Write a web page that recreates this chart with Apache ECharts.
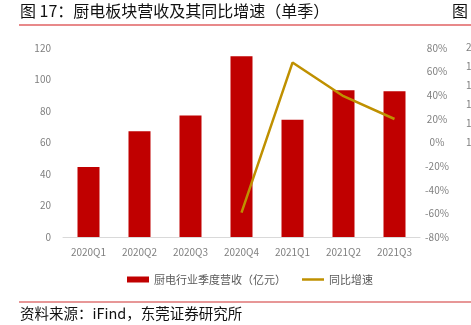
<!DOCTYPE html>
<html>
<head>
<meta charset="utf-8">
<script src="https://cdn.jsdelivr.net/npm/echarts@6/dist/echarts.min.js"></script>
<style>
html,body{margin:0;padding:0;background:#fff;}
#c{width:471px;height:325px;}
</style>
</head>
<body>
<div id="c"></div>
<script>
var categories = ['2020Q1','2020Q2','2020Q3','2020Q4','2021Q1','2021Q2','2021Q3'];
var revenue = [44.4, 67.1, 77.1, 114.7, 74.5, 93.1, 92.5];
var growth = [null, null, null, -59.4, 67.7, 39.2, 19.9];
var leftTicks = {min: 0, max: 120, interval: 20};
var rightTicks = {min: -80, max: 80, interval: 20};
var clippedTicks = ['200','180','160','140','120','100'];

var FONT = '"Noto Sans CJK SC", "Noto Sans", sans-serif';
var chart = echarts.init(document.getElementById('c'), null, {renderer: 'canvas'});

var graphics = [
  {type: 'text', left: 20, top: 3, style: {text: '图 17：厨电板块营收及其同比增速（单季）', font: '16px ' + FONT, fill: '#111'}},
  {type: 'text', left: 452, top: 3, style: {text: '图', font: '16px ' + FONT, fill: '#111'}},
  {type: 'rect', shape: {x: 19, y: 24, width: 452, height: 2}, style: {fill: '#E8898A'}},
  {type: 'rect', shape: {x: 19, y: 301.5, width: 452, height: 1}, style: {fill: '#D03030'}},
  {type: 'text', left: 20, top: 306, style: {text: '资料来源：iFind，东莞证券研究所', font: '14.5px ' + FONT, fill: '#111'}}
];
clippedTicks.forEach(function (t, i) {
  graphics.push({type: 'text', x: 466, y: 47.5 + i * 18.9, style: {text: t, font: '10px ' + FONT, fill: '#7F7F7F', verticalAlign: 'middle'}});
});

chart.setOption({
  animation: false,
  textStyle: {fontFamily: FONT},
  graphic: graphics,
  grid: {left: 63, right: 51, top: 48, bottom: 88},
  legend: [
    {left: 122, top: 269, itemWidth: 22, itemHeight: 6, data: [{name: '厨电行业季度营收（亿元）', icon: 'rect'}],
     textStyle: {fontSize: 11, color: '#595959', fontFamily: FONT}},
    {left: 297, top: 269, itemWidth: 22, itemHeight: 2.5, data: [{name: '同比增速', icon: 'rect'}],
     textStyle: {fontSize: 11, color: '#595959', fontFamily: FONT}}
  ],
  xAxis: {
    type: 'category', data: categories,
    axisLine: {lineStyle: {color: '#D9D9D9', width: 1}},
    axisTick: {show: false},
    axisLabel: {color: '#7F7F7F', fontSize: 10, margin: 10, fontFamily: FONT}
  },
  yAxis: [
    {type: 'value', min: leftTicks.min, max: leftTicks.max, interval: leftTicks.interval,
     splitLine: {show: false}, axisLine: {show: false}, axisTick: {show: false},
     axisLabel: {color: '#7F7F7F', fontSize: 10, margin: 12, fontFamily: FONT}},
    {type: 'value', min: rightTicks.min, max: rightTicks.max, interval: rightTicks.interval, position: 'right',
     splitLine: {show: false}, axisLine: {show: false}, axisTick: {show: false},
     axisLabel: {color: '#7F7F7F', fontSize: 10, margin: 17, align: 'center', formatter: '{value}%', fontFamily: FONT}}
  ],
  series: [
    {name: '厨电行业季度营收（亿元）', type: 'bar', data: revenue, barWidth: 22, yAxisIndex: 0,
     itemStyle: {color: '#C00000'}},
    {name: '同比增速', type: 'line', data: growth, yAxisIndex: 1, showSymbol: false, symbol: 'none',
     lineStyle: {color: '#BF9000', width: 2.5}, itemStyle: {color: '#BF9000'}}
  ]
});
</script>
</body>
</html>
